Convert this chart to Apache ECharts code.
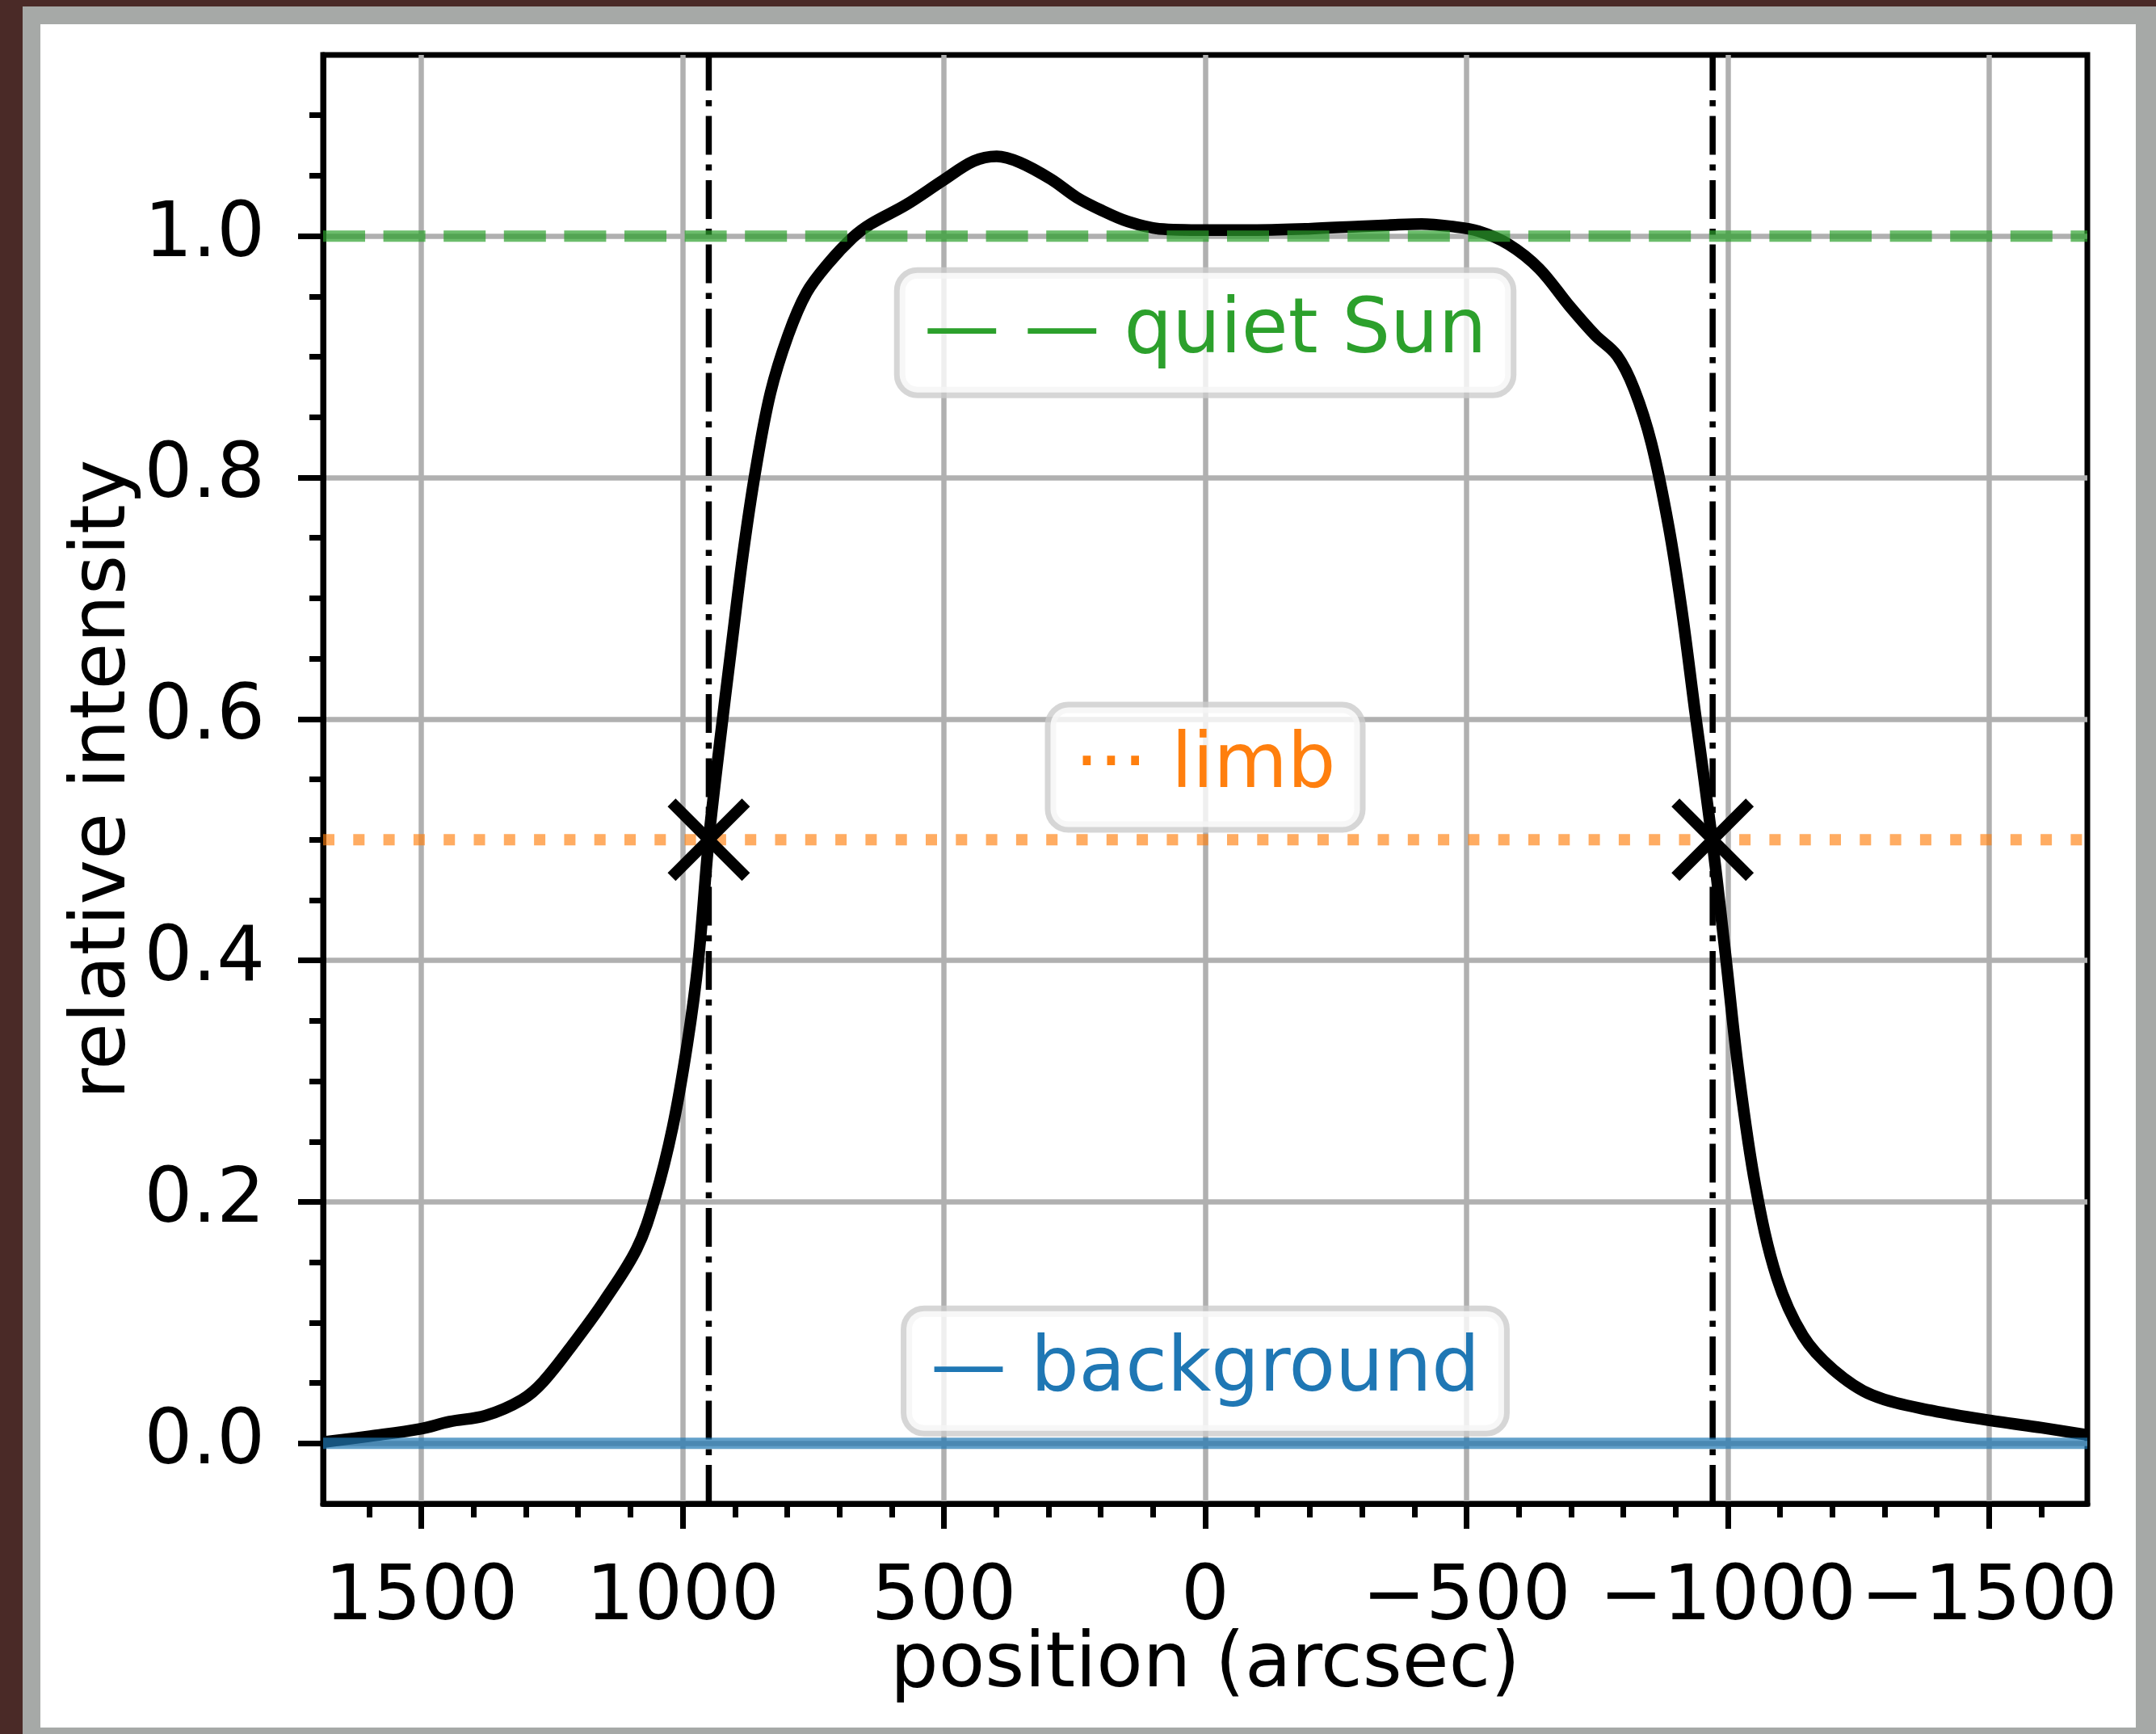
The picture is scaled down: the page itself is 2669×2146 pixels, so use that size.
<!DOCTYPE html>
<html><head><meta charset="utf-8">
<script src="https://cdn.jsdelivr.net/npm/echarts@6/dist/echarts.min.js"></script>
<style>
html,body{margin:0;padding:0;width:2669px;height:2146px;overflow:hidden;background:#4a2a27;}
#gray{position:absolute;left:28px;top:8px;width:2641px;height:2138px;background:#a6a9a7;}
#white{position:absolute;left:50px;top:30px;width:2594px;height:2108px;background:#ffffff;}
#chart{position:absolute;left:0;top:0;width:2669px;height:2146px;}
</style></head>
<body><div id="gray"></div><div id="white"></div><div id="chart"></div>
<script>
// ---- data ----
const positions = [1688, 1598, 1502, 1446, 1377, 1308, 1267, 1205, 1150, 1088, 1053, 1019, 991, 970, 950, 929, 908, 884, 860, 832, 798, 763, 722, 674, 640, 572, 502, 443, 399, 355, 295, 246, 197, 148, 88, 0, -99, -197, -296, -350, -414, -470, -523, -581, -639, -697, -746, -788, -821, -854, -887, -912, -937, -970, -995, -1020, -1053, -1094, -1144, -1202, -1276, -1392, -1517, -1600, -1688];
const intensity = [0.001, 0.006, 0.012, 0.018, 0.023, 0.036, 0.051, 0.085, 0.118, 0.161, 0.203, 0.262, 0.331, 0.400, 0.500, 0.580, 0.655, 0.738, 0.807, 0.870, 0.918, 0.953, 0.977, 0.999, 1.010, 1.026, 1.046, 1.062, 1.066, 1.061, 1.047, 1.032, 1.021, 1.012, 1.006, 1.005, 1.005, 1.006, 1.008, 1.009, 1.010, 1.008, 1.004, 0.993, 0.973, 0.942, 0.918, 0.901, 0.873, 0.828, 0.759, 0.690, 0.607, 0.500, 0.407, 0.310, 0.213, 0.137, 0.089, 0.061, 0.040, 0.027, 0.018, 0.013, 0.007];
const xMajorTicks = [1500, 1000, 500, 0, -500, -1000, -1500];
const xMinorTicks = [1600, 1400, 1300, 1200, 1100, 900, 800, 700, 600, 400, 300, 200, 100, -100, -200, -300, -400, -600, -700, -800, -900, -1100, -1200, -1300, -1400, -1600];
const yMajorTicks = [0, 0.2, 0.4, 0.6, 0.8, 1.0];
const yMinorTicks = [0.05, 0.1, 0.15, 0.25, 0.3, 0.35, 0.45, 0.5, 0.55, 0.65, 0.7, 0.75, 0.85, 0.9, 0.95, 1.05, 1.1];
const xRange = [-1688, 1688];
const yRange = [-0.05, 1.15];
const quietSunLevel = 1.0;
const limbLevel = 0.5;
const backgroundLevel = 0.0;
const limbPositions = [950, -971];
const boxTexts = ['\u2014 \u2014 quiet Sun', '\u00b7\u00b7\u00b7 limb', '\u2014 background'];
const boxX = [0, 0, 0];
const boxY = [0.92, 0.56, 0.06];
const boxColors = ['#2ca02c', '#ff7f0e', '#1f77b4'];
const xTitle = 'position (arcsec)';
const yTitle = 'relative intensity';

// ---- chart ----
const FONT = 'DejaVu Sans';
const FS = 94;
const chart = echarts.init(document.getElementById('chart'), null, {renderer: 'canvas'});
const fmtX = v => (v < 0 ? '\u2212' + Math.abs(v) : String(v));
const fmtY = v => Number(v).toFixed(1);
const curveData = positions.map((p, i) => [p, intensity[i]]);
const hline = y => [[xRange[1], y], [xRange[0], y]];
const vline = x => [[x, yRange[0]], [x, yRange[1]]];

const axisCommonX = {
  type: 'value', min: xRange[0], max: xRange[1], inverse: true, position: 'bottom', gridIndex: 0
};
const axisCommonY = {
  type: 'value', min: yRange[0], max: yRange[1], position: 'left', gridIndex: 0
};

const option = {
  animation: false,
  grid: {
    left: 400, top: 68, width: 2184, height: 1793,
    show: true, borderColor: '#000', borderWidth: 7, backgroundColor: 'transparent',
    containLabel: false, outerBoundsMode: 'none'
  },
  xAxis: [
    Object.assign({}, axisCommonX, {
      name: xTitle, nameLocation: 'middle', nameGap: 155, nameMoveOverlap: false,
      nameTextStyle: {fontFamily: FONT, fontSize: FS, color: '#000'},
      axisLine: {show: true, onZero: false, lineStyle: {color: '#000', width: 7}},
      axisTick: {show: true, customValues: xMajorTicks, length: 31, lineStyle: {color: '#000', width: 7}},
      axisLabel: {show: true, customValues: xMajorTicks, margin: 72, fontFamily: FONT, fontSize: FS, color: '#000', formatter: fmtX},
      splitLine: {show: true, lineStyle: {color: '#b0b0b0', width: 6.5}},
      minorTick: {show: false}, minorSplitLine: {show: false}
    }),
    Object.assign({}, axisCommonX, {
      axisLine: {show: false, onZero: false},
      axisTick: {show: true, customValues: xMinorTicks, length: 17, lineStyle: {color: '#000', width: 7}},
      axisLabel: {show: false},
      splitLine: {show: false}
    })
  ],
  yAxis: [
    Object.assign({}, axisCommonY, {
      name: yTitle, nameLocation: 'middle', nameGap: 223, nameRotate: 90, nameMoveOverlap: false,
      nameTextStyle: {fontFamily: FONT, fontSize: FS, color: '#000'},
      axisLine: {show: true, onZero: false, lineStyle: {color: '#000', width: 7}},
      axisTick: {show: true, customValues: yMajorTicks, length: 31, lineStyle: {color: '#000', width: 7}},
      axisLabel: {show: true, customValues: yMajorTicks, margin: 72, fontFamily: FONT, fontSize: FS, color: '#000', formatter: fmtY, padding: [22, 0, 0, 0]},
      splitLine: {show: true, lineStyle: {color: '#b0b0b0', width: 6.5}},
      minorTick: {show: false}, minorSplitLine: {show: false}
    }),
    Object.assign({}, axisCommonY, {
      axisLine: {show: false, onZero: false},
      axisTick: {show: true, customValues: yMinorTicks, length: 17, lineStyle: {color: '#000', width: 7}},
      axisLabel: {show: false},
      splitLine: {show: false}
    })
  ],
  series: [
    {type: 'line', data: vline(limbPositions[0]), symbol: 'none', silent: true, z: 2,
     lineStyle: {color: '#000', width: 7.5, type: [48, 12, 7.5, 12]}},
    {type: 'line', data: vline(limbPositions[1]), symbol: 'none', silent: true, z: 2,
     lineStyle: {color: '#000', width: 7.5, type: [48, 12, 7.5, 12]}},
    {type: 'line', data: curveData, symbol: 'none', silent: true, z: 3, smooth: 0.35,
     lineStyle: {color: '#000', width: 14.5, join: 'round', cap: 'butt'}},
    {type: 'line', data: hline(backgroundLevel), symbol: 'none', silent: true, z: 4,
     lineStyle: {color: 'rgba(31,119,180,0.7)', width: 14}},
    {type: 'line', data: hline(quietSunLevel), symbol: 'none', silent: true, z: 4,
     lineStyle: {color: 'rgba(44,160,44,0.7)', width: 14, type: [52, 22.6]}},
    {type: 'line', data: hline(limbLevel), symbol: 'none', silent: true, z: 4,
     lineStyle: {color: 'rgba(255,127,14,0.65)', width: 14, type: [14, 23.3]}},
    {type: 'scatter', silent: true, z: 5,
     data: limbPositions.map(p => [p, limbLevel]),
     symbol: 'path://M0,0L10,10M10,0L0,10', symbolSize: 92, symbolKeepAspect: true,
     itemStyle: {color: 'rgba(0,0,0,0)', borderColor: '#000', borderWidth: 14, opacity: 1}},
    {type: 'scatter', silent: true, z: 6,
     symbolSize: 1, itemStyle: {color: 'rgba(0,0,0,0)', opacity: 1},
     data: boxTexts.map((t, i) => ({
       value: [boxX[i], boxY[i]],
       label: {
         show: true, position: 'inside', formatter: t, color: boxColors[i], opacity: 1,
         fontFamily: FONT, fontSize: FS, lineHeight: 100,
         backgroundColor: 'rgba(255,255,255,0.8)', borderColor: 'rgba(204,204,204,0.8)',
         borderWidth: 7, borderRadius: 22, padding: [24, 30]
       }
     }))}
  ]
};
chart.setOption(option);
</script></body></html>
